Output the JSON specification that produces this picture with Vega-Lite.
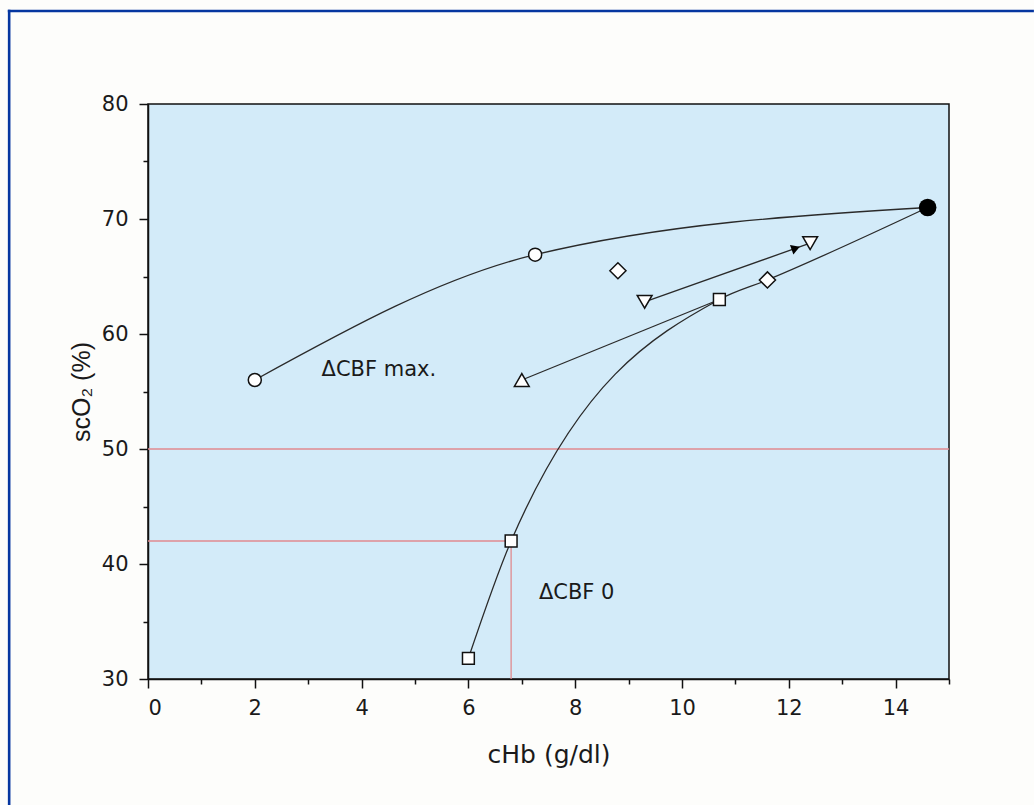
{
  "$schema": "https://vega.github.io/schema/vega-lite/v6.json",
  "width": 801,
  "height": 575,
  "autosize": {"type": "none"},
  "padding": {"left": 148, "top": 104, "right": 85, "bottom": 126},
  "background": "#fdfdfb",
  "config": {
    "font": "DejaVu Sans",
    "view": {"stroke": "#111111", "strokeWidth": 1.5, "fill": "#d3ebf9"},
    "axis": {
      "grid": false,
      "domainColor": "#111111",
      "domainWidth": 1.5,
      "tickColor": "#111111",
      "tickWidth": 1.5,
      "labelFont": "DejaVu Sans",
      "labelFontSize": 21,
      "labelColor": "#1a1a1a",
      "titleFont": "DejaVu Sans",
      "titleFontSize": 24,
      "titleFontWeight": "normal",
      "titleColor": "#1a1a1a"
    }
  },
  "datasets": {
    "curves": [
      {"series": "max", "cHb": 2.0, "scO2": 56.0},
      {"series": "max", "cHb": 7.25, "scO2": 66.9},
      {"series": "max", "cHb": 14.6, "scO2": 71.0},
      {"series": "zero", "cHb": 6.0, "scO2": 31.8},
      {"series": "zero", "cHb": 6.8, "scO2": 42.0},
      {"series": "zero", "cHb": 10.7, "scO2": 63.0},
      {"series": "zero", "cHb": 11.6, "scO2": 64.7},
      {"series": "zero", "cHb": 14.6, "scO2": 71.0},
      {"series": "up", "cHb": 7.0, "scO2": 56.0},
      {"series": "up", "cHb": 10.7, "scO2": 63.0},
      {"series": "down", "cHb": 9.3, "scO2": 62.8},
      {"series": "down", "cHb": 12.4, "scO2": 67.9}
    ],
    "points": [
      {"marker": "circle", "cHb": 2.0, "scO2": 56.0},
      {"marker": "circle", "cHb": 7.25, "scO2": 66.9},
      {"marker": "square", "cHb": 6.0, "scO2": 31.8},
      {"marker": "square", "cHb": 6.8, "scO2": 42.0},
      {"marker": "square", "cHb": 10.7, "scO2": 63.0},
      {"marker": "diamond", "cHb": 8.8, "scO2": 65.5},
      {"marker": "diamond", "cHb": 11.6, "scO2": 64.7},
      {"marker": "triangle-up", "cHb": 7.0, "scO2": 56.0},
      {"marker": "triangle-down", "cHb": 9.3, "scO2": 62.8},
      {"marker": "triangle-down", "cHb": 12.4, "scO2": 67.9}
    ],
    "baseline": [
      {"cHb": 14.6, "scO2": 71.0}
    ],
    "arrowhead": [
      {"cHb": 12.13, "scO2": 67.46}
    ],
    "limits": [
      {"cHb": 0, "cHb2": 15, "scO2": 50, "scO22": 50},
      {"cHb": 0, "cHb2": 6.8, "scO2": 42, "scO22": 42},
      {"cHb": 6.8, "cHb2": 6.8, "scO2": 30, "scO22": 42}
    ],
    "notes": [
      {"text": "ΔCBF max.", "cHb": 3.25, "scO2": 56.9},
      {"text": "ΔCBF 0", "cHb": 7.32, "scO2": 37.5}
    ]
  },
  "layer": [
    {
      "data": {"name": "limits"},
      "mark": {"type": "rule", "color": "#e08a8f", "strokeWidth": 1.3},
      "encoding": {
        "x": {
          "field": "cHb",
          "type": "quantitative",
          "title": "cHb (g/dl)",
          "scale": {"domain": [0, 15], "nice": false, "zero": false},
          "axis": {
            "values": [0, 1, 2, 3, 4, 5, 6, 7, 8, 9, 10, 11, 12, 13, 14, 15],
            "labelExpr": "datum.value % 2 === 0 && datum.value < 15 ? datum.label : ''",
            "tickSize": {"condition": {"test": "datum.value % 2 === 0", "value": 9}, "value": 5},
            "labelPadding": 9,
            "titleFontSize": 25,
            "titlePadding": 24
          }
        },
        "x2": {"field": "cHb2"},
        "y": {
          "field": "scO2",
          "type": "quantitative",
          "title": "scO₂ (%)",
          "scale": {"domain": [30, 80], "nice": false, "zero": false},
          "axis": {
            "values": [30, 35, 40, 45, 50, 55, 60, 65, 70, 75, 80],
            "labelExpr": "datum.value % 10 === 0 ? datum.label : ''",
            "tickSize": {"condition": {"test": "datum.value % 10 === 0", "value": 9}, "value": 5},
            "labelPadding": 11,
            "titleFont": "Liberation Sans",
            "titleFontSize": 25,
            "titlePadding": 7
          }
        },
        "y2": {"field": "scO22"}
      }
    },
    {
      "data": {"name": "curves"},
      "mark": {"type": "line", "interpolate": "monotone", "color": "#2a2a2a", "strokeWidth": 1.3},
      "encoding": {
        "x": {"field": "cHb", "type": "quantitative"},
        "y": {"field": "scO2", "type": "quantitative"},
        "detail": {"field": "series"}
      }
    },
    {
      "data": {"name": "points"},
      "mark": {"type": "point", "filled": false, "fill": "#ffffff", "fillOpacity": 1, "stroke": "#111111", "strokeWidth": 1.5, "opacity": 1},
      "encoding": {
        "x": {"field": "cHb", "type": "quantitative"},
        "y": {"field": "scO2", "type": "quantitative"},
        "shape": {"field": "marker", "type": "nominal", "scale": null},
        "size": {
          "field": "marker",
          "type": "nominal",
          "legend": null,
          "scale": {
            "type": "ordinal",
            "domain": ["circle", "square", "diamond", "triangle-up", "triangle-down"],
            "range": [170, 140, 260, 220, 220]
          }
        }
      }
    },
    {
      "data": {"name": "baseline"},
      "mark": {"type": "point", "shape": "circle", "filled": true, "color": "#000000", "opacity": 1, "size": 310},
      "encoding": {
        "x": {"field": "cHb", "type": "quantitative"},
        "y": {"field": "scO2", "type": "quantitative"}
      }
    },
    {
      "data": {"name": "arrowhead"},
      "mark": {"type": "point", "shape": "triangle-right", "filled": true, "color": "#000000", "opacity": 1, "size": 100, "angle": -20},
      "encoding": {
        "x": {"field": "cHb", "type": "quantitative"},
        "y": {"field": "scO2", "type": "quantitative"}
      }
    },
    {
      "data": {"name": "notes"},
      "mark": {"type": "text", "align": "left", "baseline": "middle", "font": "DejaVu Sans", "fontSize": 21, "color": "#1a1a1a"},
      "encoding": {
        "x": {"field": "cHb", "type": "quantitative"},
        "y": {"field": "scO2", "type": "quantitative"},
        "text": {"field": "text"}
      }
    },
    {
      "data": {"values": [{"edge": "top"}]},
      "mark": {"type": "rule", "color": "#0536a0", "strokeWidth": 2.6, "strokeCap": "butt"},
      "encoding": {
        "x": {"datum": -2.625, "type": "quantitative"},
        "x2": {"datum": 16.59},
        "y": {"datum": 88.09, "type": "quantitative"}
      }
    },
    {
      "data": {"values": [{"edge": "left"}]},
      "mark": {"type": "rule", "color": "#0536a0", "strokeWidth": 2.6, "strokeCap": "butt"},
      "encoding": {
        "x": {"datum": -2.6, "type": "quantitative"},
        "y": {"datum": 88.2, "type": "quantitative"},
        "y2": {"datum": 18.9}
      }
    }
  ]
}
